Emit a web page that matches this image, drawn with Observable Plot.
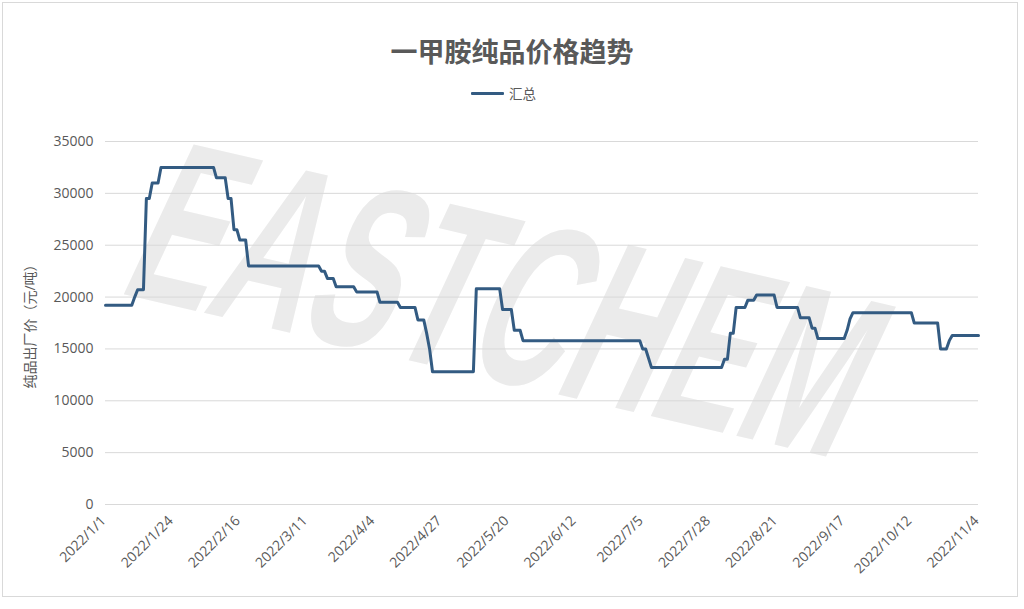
<!DOCTYPE html>
<html>
<head>
<meta charset="utf-8">
<script src="https://cdn.jsdelivr.net/npm/d3@7"></script>
<script src="https://cdn.jsdelivr.net/npm/@observablehq/plot@0.6"></script>
<style>
  body { margin: 0; background: #fff; }
  #chart { position: relative; width: 1024px; height: 609px; overflow: hidden; color: #595959;
           font-family: "Open Sans", "Noto Sans CJK SC", sans-serif; }
  #frame { position: absolute; left: 2px; top: 2px; width: 1014px; height: 593px; border: 1px solid #d9d9d9; }
  #wm { position: absolute; left: 0; top: 0; }
  #title { position: absolute; left: 0; top: 31px; width: 1024px; text-align: center; font-size: 27px;
           font-weight: bold; line-height: 40px; font-family: "Noto Sans CJK SC", sans-serif; color: #595959; }
  #legend { position: absolute; top: 83px; left: 471px; height: 20px; display: flex; align-items: center;
            font-size: 13.5px; font-family: "Noto Sans CJK SC", sans-serif; color: #595959; }
  #legend .sw { width: 33px; height: 3px; background: #335b82; margin-right: 5px; border-radius: 1px; }
  #plot { position: absolute; left: 0; top: 110px; }
</style>
</head>
<body>
<div id="chart">
  <div id="frame"></div>
  <svg id="wm" width="1024" height="609"></svg>
  <div id="title"></div>
  <div id="legend"><div class="sw"></div><span id="legendText"></span></div>
  <div id="plot"></div>
</div>
<script>
const chartTitle = "一甲胺纯品价格趋势";
const seriesName = "汇总";
const yLabel = "纯品出厂价（元/吨）";
const watermark = "EASTCHEM";

// category-axis labels (one every 23 categories)
const tickLabels = ["2022/1/1","2022/1/24","2022/2/16","2022/3/11","2022/4/4","2022/4/27","2022/5/20",
                    "2022/6/12","2022/7/5","2022/7/28","2022/8/21","2022/9/17","2022/10/12","2022/11/4"];
const tickStep = 23;
const yTicks = [0, 5000, 10000, 15000, 20000, 25000, 30000, 35000];

// daily price, one value per category (300 categories)
const price = [
  19200,19200,19200,19200,19200,19200,19200,19200,19200,19200,
  20000,20700,20700,20700,29500,29500,31000,31000,31000,32500,
  32500,32500,32500,32500,32500,32500,32500,32500,32500,32500,
  32500,32500,32500,32500,32500,32500,32500,32500,31500,31500,
  31500,31500,29500,29500,26500,26500,25500,25500,25500,23000,
  23000,23000,23000,23000,23000,23000,23000,23000,23000,23000,
  23000,23000,23000,23000,23000,23000,23000,23000,23000,23000,
  23000,23000,23000,23000,22500,22500,21800,21800,21800,21000,
  21000,21000,21000,21000,21000,21000,20500,20500,20500,20500,
  20500,20500,20500,20500,19500,19500,19500,19500,19500,19500,
  19500,19000,19000,19000,19000,19000,19000,17800,17800,17800,
  16500,15000,12800,12800,12800,12800,12800,12800,12800,12800,
  12800,12800,12800,12800,12800,12800,12800,20800,20800,20800,
  20800,20800,20800,20800,20800,20800,18800,18800,18800,18800,
  16800,16800,16800,15800,15800,15800,15800,15800,15800,15800,
  15800,15800,15800,15800,15800,15800,15800,15800,15800,15800,
  15800,15800,15800,15800,15800,15800,15800,15800,15800,15800,
  15800,15800,15800,15800,15800,15800,15800,15800,15800,15800,
  15800,15800,15800,15800,15000,15000,14100,13200,13200,13200,
  13200,13200,13200,13200,13200,13200,13200,13200,13200,13200,
  13200,13200,13200,13200,13200,13200,13200,13200,13200,13200,
  13200,13200,14000,14000,16500,16500,19000,19000,19000,19000,
  19700,19700,19700,20200,20200,20200,20200,20200,20200,20200,
  19000,19000,19000,19000,19000,19000,19000,19000,18000,18000,
  18000,18000,17000,17000,16000,16000,16000,16000,16000,16000,
  16000,16000,16000,16000,16800,17900,18500,18500,18500,18500,
  18500,18500,18500,18500,18500,18500,18500,18500,18500,18500,
  18500,18500,18500,18500,18500,18500,18500,17500,17500,17500,
  17500,17500,17500,17500,17500,17500,15000,15000,15000,15800,
  16300,16300,16300,16300,16300,16300,16300,16300,16300,16300
];

const data = price.map((v, i) => ({ i, v }));
const tickIndex = tickLabels.map((_, k) => k * tickStep);

document.getElementById("title").textContent = chartTitle;
document.getElementById("legendText").textContent = seriesName;

// watermark
const wm = d3.select("#wm");
wm.append("text")
  .attr("transform", "translate(510,300) rotate(13) skewX(-12) scale(0.56,1)")
  .attr("text-anchor", "middle")
  .attr("dominant-baseline", "central")
  .attr("font-family", "'Liberation Sans', Arial, sans-serif")
  .attr("font-weight", "bold")
  .attr("font-size", 235)
  .attr("fill", "#ebebeb")
  .text(watermark);

const chart = Plot.plot({
  width: 1024,
  height: 486,
  marginLeft: 105,
  marginRight: 46,
  marginTop: 31,
  marginBottom: 92,
  style: { background: "transparent", fontFamily: "'Open Sans','Noto Sans CJK SC',sans-serif", fontSize: "14px", color: "#595959" },
  x: { domain: [0, price.length - 1] },
  y: { domain: [0, 35000] },
  marks: [
    Plot.ruleY(yTicks, { stroke: "#d9d9d9", strokeWidth: 1 }),
    Plot.axisY(yTicks, {
      tickSize: 0, tickPadding: 12, tickFormat: d => String(d),
      label: yLabel, labelAnchor: "center", labelArrow: "none", labelOffset: 80,
      fontSize: 14, fill: "#595959"
    }),
    Plot.axisX(tickIndex, {
      tickSize: 0, tickPadding: 14, tickRotate: -45, dx: -2,
      tickFormat: i => tickLabels[Math.round(i / tickStep)],
      label: null, fontSize: 14, fill: "#595959"
    }),
    Plot.line(data, { x: "i", y: "v", stroke: "#335b82", strokeWidth: 3, strokeLinejoin: "round", strokeLinecap: "round" })
  ]
});
document.getElementById("plot").appendChild(chart);
</script>
</body>
</html>
